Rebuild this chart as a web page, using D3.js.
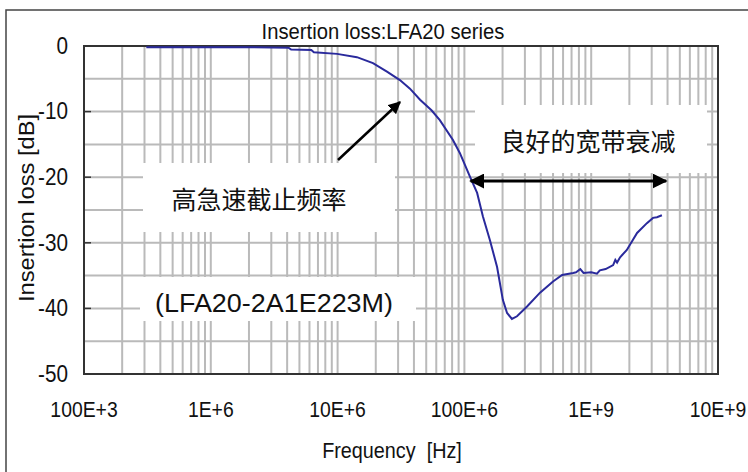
<!DOCTYPE html>
<html><head><meta charset="utf-8">
<script src="https://cdn.jsdelivr.net/npm/d3@7"></script>
<style>
html,body{margin:0;padding:0;background:#fff;}
svg{display:block;}
</style></head>
<body>
<svg id="chart" width="748" height="472"></svg>
<script>
// ---- data ----
const titleText = "Insertion loss:LFA20 series";
const xLabel = "Frequency  [Hz]";
const yLabel = "Insertion loss [dB]";
const xTickValues = [1e5, 1e6, 1e7, 1e8, 1e9, 1e10];
const xTickLabels = ["100E+3", "1E+6", "10E+6", "100E+6", "1E+9", "10E+9"];
const yTickValues = [0, -10, -20, -30, -40, -50];
const yTickLabels = ["0", "-10", "-20", "-30", "-40", "-50"];
const freqHz = [3.1e5, 1e6, 2e6, 4.1e6, 4.3e6, 6.2e6, 6.5e6, 9.9e6, 1.42e7, 1.9e7, 2.45e7, 3.1e7, 3.72e7, 4.47e7,
  5.5e7, 6.4e7, 8.1e7, 9.2e7, 1.11e8, 1.26e8, 1.40e8, 1.59e8, 1.81e8, 2.01e8, 2.17e8, 2.37e8, 2.6e8, 3.12e8,
  3.95e8, 5.0e8, 5.9e8, 7.2e8, 7.6e8, 8.2e8, 8.7e8, 1.0e9, 1.11e9, 1.17e9, 1.3e9, 1.49e9, 1.55e9, 1.6e9,
  1.69e9, 1.91e9, 2.3e9, 2.75e9, 3.07e9, 3.3e9, 3.61e9];
const lossDb = [-0.2, -0.2, -0.2, -0.25, -0.55, -0.6, -0.95, -1.2, -1.7, -2.6, -3.9, -5.2, -6.5, -8.2,
  -9.8, -11.3, -14.3, -16.3, -20, -22.4, -26, -29.6, -33.7, -38.7, -40.7, -41.6, -41.2, -39.7,
  -37.6, -35.9, -34.9, -34.6, -34.5, -34.0, -34.6, -34.5, -34.7, -34.2, -34.0, -33.4, -32.6, -33.0,
  -32.2, -31.1, -28.5, -27.0, -26.2, -26.1, -25.8];
const noteCutoff = "高急速截止频率";
const noteBroadband = "良好的宽带衰减";
const notePart = "(LFA20-2A1E223M)";

// ---- layout ----
const svg = d3.select("#chart");
const L = 84, R = 718, T = 46, B = 374;
const x = d3.scaleLog().domain([1e5, 1e10]).range([L, R]);
const y = d3.scaleLinear().domain([0, -50]).range([T, B]);
const sansFont = "'Liberation Sans', Arial, sans-serif";

// outer frame
svg.append("rect").attr("x", 6).attr("y", 10).attr("width", 800).attr("height", 600)
  .attr("fill", "none").attr("stroke", "#444").attr("stroke-width", 1.5);

// grid
const gridColor = "#bababa";
const vTicks = [];
for (let e = 5; e < 10; e++) for (let m = 1; m <= 9; m++) vTicks.push(m * Math.pow(10, e));
svg.append("g").selectAll("line").data(vTicks).join("line")
  .attr("x1", d => x(d)).attr("x2", d => x(d)).attr("y1", T).attr("y2", B)
  .attr("stroke", gridColor).attr("stroke-width", 2);
const hTicks = d3.range(0, -50.1, -5);
svg.append("g").selectAll("line").data(hTicks).join("line")
  .attr("x1", L).attr("x2", R).attr("y1", d => y(d)).attr("y2", d => y(d))
  .attr("stroke", gridColor).attr("stroke-width", 2);

// white annotation boxes
const boxes = [[143, 163, 252, 69], [140, 277, 276, 44], [475, 105, 232, 68]];
svg.append("g").selectAll("rect").data(boxes).join("rect")
  .attr("x", d => d[0]).attr("y", d => d[1]).attr("width", d => d[2]).attr("height", d => d[3])
  .attr("fill", "#fff");

// frame of plot
svg.append("rect").attr("x", L).attr("y", T).attr("width", R - L).attr("height", B - T)
  .attr("fill", "none").attr("stroke", "#333").attr("stroke-width", 2);

// y axis major ticks (inside)
svg.append("g").selectAll("line").data(yTickValues).join("line")
  .attr("x1", L).attr("x2", L + 7).attr("y1", d => y(d)).attr("y2", d => y(d))
  .attr("stroke", "#333").attr("stroke-width", 1.5);

// curve
const pts = freqHz.map((f, i) => [f, lossDb[i]]);
svg.append("path").datum(pts)
  .attr("d", d3.line().x(d => x(d[0])).y(d => y(d[1])))
  .attr("fill", "none").attr("stroke", "#2a2a9c").attr("stroke-width", 2);

// tick labels (slightly condensed, tall glyphs)
svg.append("g").selectAll("text").data(yTickValues).join("text")
  .attr("transform", d => `translate(68,${y(d)}) scale(0.9,1)`)
  .attr("text-anchor", "end").attr("dominant-baseline", "central")
  .attr("font-family", sansFont).attr("font-size", 23).attr("fill", "#111")
  .text((d, i) => yTickLabels[i]);
svg.append("g").selectAll("text").data(xTickValues).join("text")
  .attr("transform", d => `translate(${x(d)},409) scale(0.88,1)`)
  .attr("text-anchor", "middle").attr("dominant-baseline", "central")
  .attr("font-family", sansFont).attr("font-size", 22).attr("fill", "#111")
  .text((d, i) => xTickLabels[i]);

// titles
svg.append("text").attr("transform", "translate(383,39) scale(0.92,1)").attr("text-anchor", "middle")
  .attr("font-family", sansFont).attr("font-size", 22).attr("fill", "#111").text(titleText);
svg.append("text").attr("transform", "translate(392,458) scale(0.9,1)").attr("text-anchor", "middle")
  .attr("font-family", sansFont).attr("font-size", 22).attr("fill", "#111")
  .attr("xml:space", "preserve").style("white-space", "pre").text(xLabel);
svg.append("text").attr("transform", "translate(34,208) rotate(-90)").attr("text-anchor", "middle")
  .attr("font-family", sansFont).attr("font-size", 22).attr("fill", "#111")
  .attr("textLength", 188).attr("lengthAdjust", "spacingAndGlyphs").text(yLabel);

// annotations text
const cjk = "'Noto Sans CJK SC', sans-serif";
svg.append("text").attr("x", 259).attr("y", 198).attr("text-anchor", "middle").attr("dominant-baseline", "central")
  .attr("font-family", cjk).attr("font-size", 25).attr("fill", "#111").text(noteCutoff);
svg.append("text").attr("x", 588).attr("y", 140).attr("text-anchor", "middle").attr("dominant-baseline", "central")
  .attr("font-family", cjk).attr("font-size", 25).attr("fill", "#111").text(noteBroadband);
svg.append("text").attr("x", 274).attr("y", 303).attr("text-anchor", "middle").attr("dominant-baseline", "central")
  .attr("font-family", sansFont).attr("font-size", 25).attr("fill", "#111")
  .attr("textLength", 238).attr("lengthAdjust", "spacingAndGlyphs").text(notePart);

// arrows
const defs = svg.append("defs");
defs.append("marker").attr("id", "ah").attr("viewBox", "0 0 10 10").attr("refX", 9).attr("refY", 5)
  .attr("markerWidth", 5).attr("markerHeight", 5).attr("markerUnits", "strokeWidth").attr("orient", "auto-start-reverse")
  .append("path").attr("d", "M0,0 L10,5 L0,10 Z").attr("fill", "#000");
svg.append("line").attr("x1", 338).attr("y1", 160).attr("x2", 400).attr("y2", 102)
  .attr("stroke", "#000").attr("stroke-width", 2.5).attr("marker-end", "url(#ah)");
svg.append("line").attr("x1", x(1.12e8)).attr("y1", 181).attr("x2", x(3.9e9)).attr("y2", 181)
  .attr("stroke", "#000").attr("stroke-width", 3).attr("marker-end", "url(#ah)").attr("marker-start", "url(#ah)");
</script>
</body></html>
